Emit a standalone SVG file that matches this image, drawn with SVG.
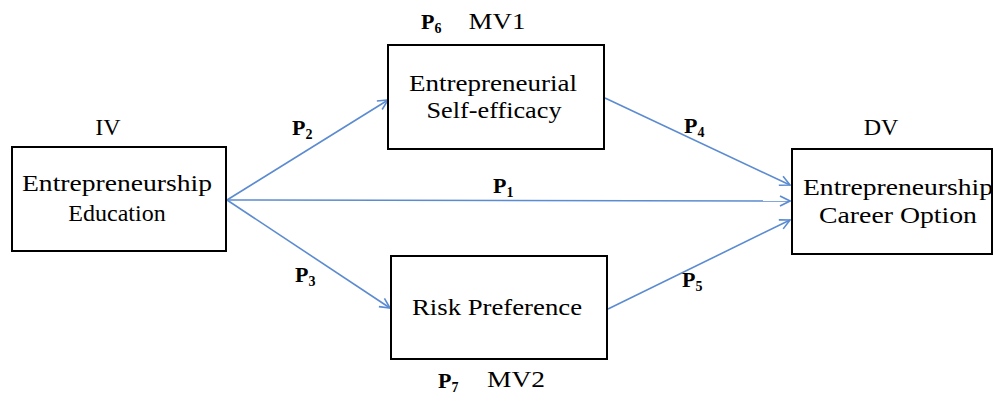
<svg xmlns="http://www.w3.org/2000/svg" width="994" height="394" viewBox="0 0 994 394">
<style>
.box{fill:#fff;stroke:#000;stroke-width:2}
text{font-family:'Liberation Serif','Times New Roman','DejaVu Serif',serif}
.t{font-size:24px;fill:#000;text-anchor:middle}
.p{font-size:22px;font-weight:bold;fill:#000}
.s{font-size:14px}
.c{stroke:#5b8bd0;stroke-width:1.6;fill:none}
</style>
<defs>
<marker id="arr" viewBox="0 0 12 12" refX="11" refY="6" markerWidth="12" markerHeight="12" markerUnits="userSpaceOnUse" orient="auto">
<path d="M1,1 L11,6 L1,11" fill="none" stroke="#5b8bd0" stroke-width="1.6"/>
</marker>
</defs>
<rect width="994" height="394" fill="#fff"/>
<g id="connectors">
<line class="c" x1="227" y1="200" x2="388" y2="100" marker-end="url(#arr)"/>
<line class="c" x1="227" y1="200" x2="790" y2="201" marker-end="url(#arr)"/>
<line class="c" x1="227" y1="200" x2="390" y2="308" marker-end="url(#arr)"/>
<line class="c" x1="605" y1="98" x2="790" y2="185" marker-end="url(#arr)"/>
<line class="c" x1="608" y1="309" x2="790" y2="220" marker-end="url(#arr)"/>
<text class="p" x="292" y="135">P<tspan class="s" dy="4">2</tspan></text>
<text class="p" x="493" y="193">P<tspan class="s" dy="4">1</tspan></text>
<text class="p" x="295" y="282">P<tspan class="s" dy="4">3</tspan></text>
<text class="p" x="684" y="133">P<tspan class="s" dy="4">4</tspan></text>
<text class="p" x="682" y="287">P<tspan class="s" dy="4">5</tspan></text>
</g>
<g id="iv">
<text class="t" x="108" y="135">IV</text>
<rect class="box" x="12" y="147" width="214" height="104"/>
<text class="t" x="117" y="191" textLength="190" lengthAdjust="spacingAndGlyphs">Entrepreneurship</text>
<text class="t" x="117" y="221">Education</text>
</g>
<g id="mv1">
<text class="p" x="421" y="29">P<tspan class="s" dy="4">6</tspan></text>
<text class="t" x="497" y="29" textLength="57" lengthAdjust="spacingAndGlyphs">MV1</text>
<rect class="box" x="388" y="45" width="216" height="104"/>
<text class="t" x="493" y="91" textLength="168" lengthAdjust="spacingAndGlyphs">Entrepreneurial</text>
<text class="t" x="494" y="118" textLength="135" lengthAdjust="spacingAndGlyphs">Self-efficacy</text>
</g>
<g id="mv2">
<rect class="box" x="391" y="256" width="216" height="103"/>
<text class="t" x="497" y="315" textLength="170" lengthAdjust="spacingAndGlyphs">Risk Preference</text>
<text class="p" x="438" y="388">P<tspan class="s" dy="4">7</tspan></text>
<text class="t" x="516" y="387" textLength="58" lengthAdjust="spacingAndGlyphs">MV2</text>
</g>
<g id="dv">
<text class="t" x="881" y="135">DV</text>
<rect class="box" x="792" y="149" width="200" height="105"/>
<text class="t" x="898" y="195" textLength="190" lengthAdjust="spacingAndGlyphs">Entrepreneurship</text>
<text class="t" x="898" y="223" textLength="158" lengthAdjust="spacingAndGlyphs">Career Option</text>
</g>
</svg>
